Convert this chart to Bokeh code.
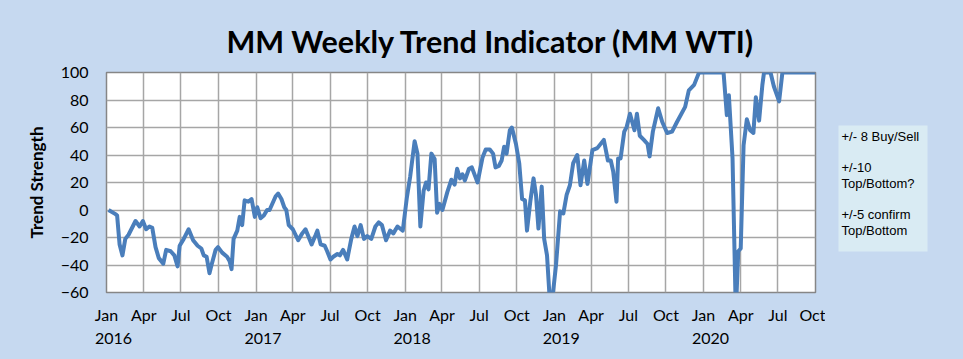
import pandas as pd
from bokeh.plotting import figure
from bokeh.layouts import row
from bokeh.models import FixedTicker, DatetimeAxis, Range1d, Label, ColumnDataSource, BoxAnnotation
from bokeh.embed import file_html
from bokeh.resources import INLINE

# ---- data ----
dates_2016 = ["2016-01-06","2016-01-23","2016-01-27","2016-02-02","2016-02-09","2016-02-16","2016-02-24","2016-03-12","2016-03-22","2016-03-30",
              "2016-04-07","2016-04-15","2016-04-22","2016-04-30","2016-05-08","2016-05-19","2016-05-26","2016-06-06","2016-06-15","2016-06-23",
              "2016-06-28","2016-07-08","2016-07-20","2016-07-31","2016-08-11","2016-08-20","2016-08-26","2016-09-02","2016-09-09","2016-09-14",
              "2016-09-24","2016-09-30","2016-10-10","2016-10-22","2016-10-28","2016-11-02","2016-11-07","2016-11-16","2016-11-22","2016-11-28",
              "2016-12-04","2016-12-13","2016-12-21","2016-12-29"]
values_2016 = [0,-3,-4,-25,-33,-21,-18,-8,-12,-8,
               -14,-12,-13,-27,-35,-39,-29,-30,-33,-41,
               -26,-21,-14,-22,-26,-28,-33,-34,-46,-40,
               -29,-27,-31,-34,-37,-43,-21,-15,-5,-11,
               7,6,8,-5]
dates_2017 = ["2017-01-04","2017-01-12","2017-01-20","2017-01-28","2017-02-03","2017-02-18","2017-02-24","2017-03-04","2017-03-11","2017-03-16",
              "2017-03-22","2017-04-01","2017-04-14","2017-04-24","2017-05-02","2017-05-17","2017-05-27","2017-05-31","2017-06-08","2017-06-18",
              "2017-06-24","2017-07-02","2017-07-09","2017-07-19","2017-07-25","2017-08-02","2017-08-12","2017-08-22","2017-08-30","2017-09-06",
              "2017-09-14","2017-09-22","2017-09-30","2017-10-10","2017-10-20","2017-10-28","2017-11-05","2017-11-15","2017-11-25","2017-12-03",
              "2017-12-13","2017-12-26"]
values_2017 = [2,-6,-4,0,0,10,12,8,2,0,
               -11,-14,-22,-17,-14,-25,-18,-15,-25,-26,
               -30,-36,-34,-32,-33,-29,-36,-21,-12,-19,
               -11,-21,-19,-21,-12,-9,-11,-22,-15,-17,
               -12,-15]
dates_2018 = ["2018-01-05","2018-01-13","2018-01-24","2018-01-31","2018-02-07","2018-02-15","2018-02-21","2018-02-27","2018-03-06","2018-03-14",
              "2018-03-20","2018-03-26","2018-04-02","2018-04-14","2018-04-24","2018-05-02","2018-05-08","2018-05-15","2018-05-21","2018-05-27",
              "2018-06-06","2018-06-13","2018-06-27","2018-07-09","2018-07-17","2018-07-27","2018-08-04","2018-08-10","2018-08-18","2018-08-25",
              "2018-08-31","2018-09-06","2018-09-14","2018-09-19","2018-09-29","2018-10-07","2018-10-14","2018-10-21","2018-10-26","2018-11-03",
              "2018-11-11","2018-11-17","2018-11-23","2018-12-01","2018-12-07","2018-12-14","2018-12-20","2018-12-24","2018-12-28"]
values_2018 = [9,24,50,41,-12,14,20,15,41,37,
               -2,4.5,0,13,22,18.5,30,23,26,21.5,
               30,31,20,38,44,44,41,31,32,36,
               46,41,58,60,48,34,8,7,-15,6,
               23,11,-13.5,17,-21,-33,-62,-75,-62]
dates_2019 = ["2019-01-05","2019-01-15","2019-01-23","2019-01-31","2019-02-08","2019-02-16","2019-02-26","2019-03-06","2019-03-15","2019-03-23",
              "2019-04-04","2019-04-16","2019-05-02","2019-05-12","2019-05-19","2019-05-25","2019-06-02","2019-06-06","2019-06-12","2019-06-21",
              "2019-06-27","2019-07-05","2019-07-16","2019-07-22","2019-07-29","2019-08-08","2019-08-17","2019-08-22","2019-08-30","2019-09-12",
              "2019-09-22","2019-10-04","2019-10-16","2019-10-28","2019-11-17","2019-11-26","2019-12-09","2019-12-17","2019-12-21"]
values_2019 = [-40,-1,-2.5,11,18,34,40,18,36,19,
               43.5,45,51,36,36,28,6,37.5,37.5,57,
               60.5,70,58,70,54,51,48,39,57,74,
               64,56,57,64,75,87,91,97,100]
dates_2020 = ["2020-02-19","2020-02-27","2020-03-03","2020-03-12","2020-03-20","2020-03-26","2020-04-01","2020-04-08","2020-04-16","2020-04-24",
              "2020-05-02","2020-05-08","2020-05-16","2020-05-24","2020-05-28","2020-06-13","2020-06-21","2020-07-04","2020-07-12","2020-10-01"]
values_2020 = [100,69,83.5,37.5,-75,-30,-28,47,66,58,
               56,82,65,91,100,100,90,79,100,100]

month_labels = ["Jan", "Apr", "Jul", "Oct"] * 5
year_labels = ["2016", "2017", "2018", "2019", "2020"]
y_ticks = [-60, -40, -20, 0, 20, 40, 60, 80, 100]

title_text = "MM Weekly Trend Indicator (MM WTI)"
note_text = "+/- 8 Buy/Sell\n\n+/-10\nTop/Bottom?\n\n+/-5 confirm\nTop/Bottom"

# ---- build ----
dates = pd.to_datetime(dates_2016 + dates_2017 + dates_2018 + dates_2019 + dates_2020)
values = values_2016 + values_2017 + values_2018 + values_2019 + values_2020
src = ColumnDataSource(dict(date=dates, val=values))

def ms(ts):
    return float(pd.Timestamp(ts).value // 10**6)

quarters = pd.date_range("2016-01-01", "2020-10-01", freq="QS")
q_ms = [ms(t) for t in quarters]
year_ms = [ms(pd.Timestamp(f"{y}-01-01") + pd.Timedelta(days=17)) for y in year_labels]

BG = "#c6d9f0"
FONT = "Lato"

p = figure(x_axis_type="datetime", output_backend="svg", toolbar_location=None,
           frame_width=709, frame_height=220,
           min_border_left=106, min_border_right=10, min_border_top=72, min_border_bottom=67,
           x_range=Range1d(q_ms[0], q_ms[-1]), y_range=Range1d(-60, 100),
           border_fill_color=BG, background_fill_color="white")

p.line("date", "val", source=src, line_color="#4a7ebb", line_width=4, line_join="round")

p.title.text = title_text
p.title.align = "left"
p.title.offset = 120
p.title.text_font = FONT
p.title.text_font_size = "30.5px"
p.title.text_font_style = "bold"
p.title.text_color = "black"
p.title.standoff = 28

p.outline_line_color = "#868686"
p.outline_line_width = 1.5

# y axis
ya = p.yaxis[0]
ya.ticker = FixedTicker(ticks=y_ticks)
ya.axis_line_color = None
ya.major_tick_line_color = None
ya.minor_tick_line_color = None
ya.major_label_text_font = FONT
ya.major_label_text_font_size = "16px"
ya.major_label_text_color = "black"
ya.major_label_standoff = 12
ya.axis_label = "Trend Strength"
ya.axis_label_text_font = FONT
ya.axis_label_text_font_size = "17px"
ya.axis_label_text_font_style = "bold"
ya.axis_label_text_color = "black"
ya.axis_label_standoff = 11

# month axis
xa = p.xaxis[0]
xa.ticker = FixedTicker(ticks=q_ms)
xa.major_label_overrides = {t: lab for t, lab in zip(q_ms, month_labels)}
xa.axis_line_color = None
xa.major_tick_line_color = None
xa.minor_tick_line_color = None
xa.major_label_text_font = FONT
xa.major_label_text_font_size = "16px"
xa.major_label_text_color = "black"
xa.major_label_standoff = 6

# year axis
ya2 = DatetimeAxis(ticker=FixedTicker(ticks=year_ms),
                   major_label_overrides={t: lab for t, lab in zip(year_ms, year_labels)},
                   axis_line_color=None, major_tick_line_color=None, minor_tick_line_color=None,
                   major_label_text_font=FONT, major_label_text_font_size="16px",
                   major_label_text_color="black", major_label_standoff=0)
p.add_layout(ya2, "below")

p.xgrid.ticker = FixedTicker(ticks=q_ms)
p.ygrid.ticker = FixedTicker(ticks=y_ticks)
for g in (p.xgrid[0], p.ygrid[0]):
    g.grid_line_color = "#a6a6a6"
    g.grid_line_width = 1.5

# side panel with the note box (its frame is aligned with the main frame: page y 72..292)
side = figure(width=138, height=359, output_backend="svg", toolbar_location=None, title=None,
              x_range=Range1d(0, 138), y_range=Range1d(292, 72),
              min_border=0, x_axis_location=None, y_axis_location=None,
              background_fill_color=BG, border_fill_color=BG, outline_line_color=None)
side.grid.visible = False
side.add_layout(BoxAnnotation(left=13, right=102, top=125, bottom=251,
                              fill_color="#d9ebf3", fill_alpha=1.0, line_color=None))
side.add_layout(Label(x=16, y=128, text=note_text, text_font="Liberation Sans",
                      text_font_size="13px", text_color="black", text_line_height=1.05,
                      text_baseline="top", text_align="left"))

layout = row(p, side)
html = file_html(layout, INLINE)
html = html.replace("<head>", "<head><style>body{background:%s;}</style>" % BG, 1)
open("out.html", "w").write(html)
